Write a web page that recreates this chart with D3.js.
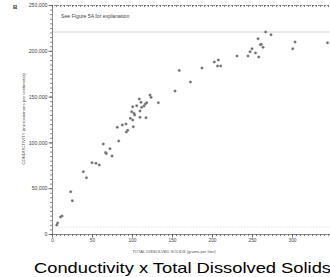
<!DOCTYPE html>
<html>
<head>
<meta charset="utf-8">
<script src="https://cdn.jsdelivr.net/npm/d3@7"></script>
<style>
  body { margin: 0; background: #fff; }
  svg { display: block; }
</style>
</head>
<body>
<svg id="svg"></svg>
<script>
// Chart data
const tds = [6, 7, 10.6, 12.5, 23.4, 25.4, 39.1, 43.1, 50, 55, 59.1, 64.1, 66.9, 67.9, 72.5, 75,
  83.4, 81.6, 87.9, 92.5, 92.9, 94.6, 101.6, 97.9, 100.9, 110, 117.5, 99.6, 102.5, 103.4, 110,
  100.9, 105.9, 111.3, 115, 116.6, 118.4, 112.1, 109.1, 122.5, 123.8, 132.9, 153.8, 173.1, 159.1,
  187.5, 202.9, 207.9, 206.9, 210.9, 231.3, 245, 247.5, 250, 254.4, 258.4, 257.5, 260.4, 261.5,
  263.8, 267.1, 273.8, 300.9, 303.8, 344.4];
const conductivity = [9800, 12000, 18600, 19650, 46200, 36350, 68000, 61460, 77840, 77180, 75330,
  98250, 88970, 87880, 93120, 85150, 101530, 116480, 119000, 120090, 111350, 113210, 117140,
  126310, 124450, 127400, 126960, 133510, 131770, 129910, 134280, 138970, 140060, 143780, 139740,
  141920, 143340, 138310, 147380, 151740, 149230, 143340, 156110, 165940, 178490, 181220, 187770,
  189950, 183400, 183400, 194320, 194320, 199010, 202290, 197590, 193230, 213210, 206660, 207200,
  203820, 220520, 217570, 202290, 209610, 208840];
const xTicks = [0, 50, 100, 150, 200, 250, 300];
const yTicks = [0, 50000, 100000, 150000, 200000, 250000];

const width = 330;
const height = 277;
const svg = d3.select("#svg").attr("width", width).attr("height", height);

const margin = { left: 52, top: 5, right: 0, bottom: 43 };
const axisColor = "#555";

const x = d3.scaleLinear().domain([0, 347.5]).range([margin.left, width]);
const y = d3.scaleLinear().domain([0, 250000]).range([height - margin.bottom, margin.top]);

// faint rule under the note
svg.append("line")
  .attr("x1", margin.left).attr("x2", width)
  .attr("y1", 32).attr("y2", 32)
  .attr("stroke", "#ccc").attr("stroke-width", 0.8);

// faint dotted line just above bottom axis (scan artifact in original)
svg.append("line")
  .attr("x1", margin.left).attr("x2", width)
  .attr("y1", y(0) - 7).attr("y2", y(0) - 7)
  .attr("stroke", "#ddd").attr("stroke-width", 0.8)
  .attr("stroke-dasharray", "1.5,1.5");

// left axis with minor ticks
const leftAxis = svg.append("g")
  .attr("transform", "translate(" + margin.left + ",0)")
  .call(d3.axisLeft(y).tickValues(d3.range(0, 250001, 5000)).tickSize(2).tickFormat(""));
leftAxis.selectAll("path, line").attr("stroke", axisColor).attr("stroke-width", 0.7);
const leftMajor = svg.append("g")
  .attr("transform", "translate(" + margin.left + ",0)")
  .call(d3.axisLeft(y).tickValues(yTicks).tickSize(3.5).tickPadding(1)
    .tickFormat(d3.format(",")));
leftMajor.select(".domain").remove();
leftMajor.selectAll("line").attr("stroke", axisColor).attr("stroke-width", 0.8);
leftMajor.selectAll("text")
  .attr("font-family", "Liberation Sans, Arial, sans-serif")
  .attr("font-size", 5.2).attr("fill", "#444");

// bottom axis with minor ticks
const bottomAxis = svg.append("g")
  .attr("transform", "translate(0," + y(0) + ")")
  .call(d3.axisBottom(x).tickValues(d3.range(0, 347, 5)).tickSize(2).tickFormat(""));
bottomAxis.selectAll("path, line").attr("stroke", axisColor).attr("stroke-width", 0.7);
const bottomMajor = svg.append("g")
  .attr("transform", "translate(0," + y(0) + ")")
  .call(d3.axisBottom(x).tickValues(xTicks).tickSize(3.5).tickPadding(1));
bottomMajor.select(".domain").remove();
bottomMajor.selectAll("line").attr("stroke", axisColor).attr("stroke-width", 0.8);
bottomMajor.selectAll("text")
  .attr("font-family", "Liberation Sans, Arial, sans-serif")
  .attr("font-size", 4.8).attr("fill", "#444");

// top axis (frame) with minor ticks
const topAxis = svg.append("g")
  .attr("transform", "translate(0," + margin.top + ")")
  .call(d3.axisBottom(x).tickValues(d3.range(0, 347, 5)).tickSize(2).tickFormat(""));
topAxis.selectAll("path, line").attr("stroke", axisColor).attr("stroke-width", 0.7);
topAxis.select(".domain").attr("stroke-dasharray", "2,1");

// points
svg.append("g")
  .selectAll("circle")
  .data(tds.map((d, i) => [d, conductivity[i]]))
  .join("circle")
  .attr("cx", d => x(d[0]))
  .attr("cy", d => y(d[1]))
  .attr("r", 1.3)
  .attr("fill", "#666")
  .attr("stroke", "#aaa")
  .attr("stroke-width", 0.4);

// panel letter
svg.append("text")
  .attr("x", 13).attr("y", 9)
  .attr("font-family", "Liberation Sans, Arial, sans-serif")
  .attr("font-weight", "bold").attr("font-size", 6).attr("fill", "#333")
  .text("B");

// note in the plot
svg.append("text")
  .attr("x", 61).attr("y", 18)
  .attr("font-family", "Liberation Sans, Arial, sans-serif")
  .attr("font-size", 5.2).attr("fill", "#444")
  .text("See Figure 5A for explanation");

// axis titles
svg.append("text")
  .attr("transform", "translate(25,119) rotate(-90)")
  .attr("text-anchor", "middle")
  .attr("font-family", "Liberation Sans, Arial, sans-serif")
  .attr("font-size", 4.3).attr("fill", "#555")
  .text("CONDUCTIVITY (microsiemens per centimeter)");

svg.append("text")
  .attr("x", 174).attr("y", 253)
  .attr("text-anchor", "middle")
  .attr("font-family", "Liberation Sans, Arial, sans-serif")
  .attr("font-size", 4.1).attr("fill", "#555")
  .text("TOTAL DISSOLVED SOLIDS (grams per liter)");

// caption
svg.append("text")
  .attr("x", 34).attr("y", 273)
  .attr("font-family", "Liberation Sans, Arial, sans-serif")
  .attr("font-size", 14.5).attr("fill", "#000")
  .attr("textLength", 297)
  .attr("lengthAdjust", "spacingAndGlyphs")
  .text("Conductivity x Total Dissolved Solids");
</script>
</body>
</html>
